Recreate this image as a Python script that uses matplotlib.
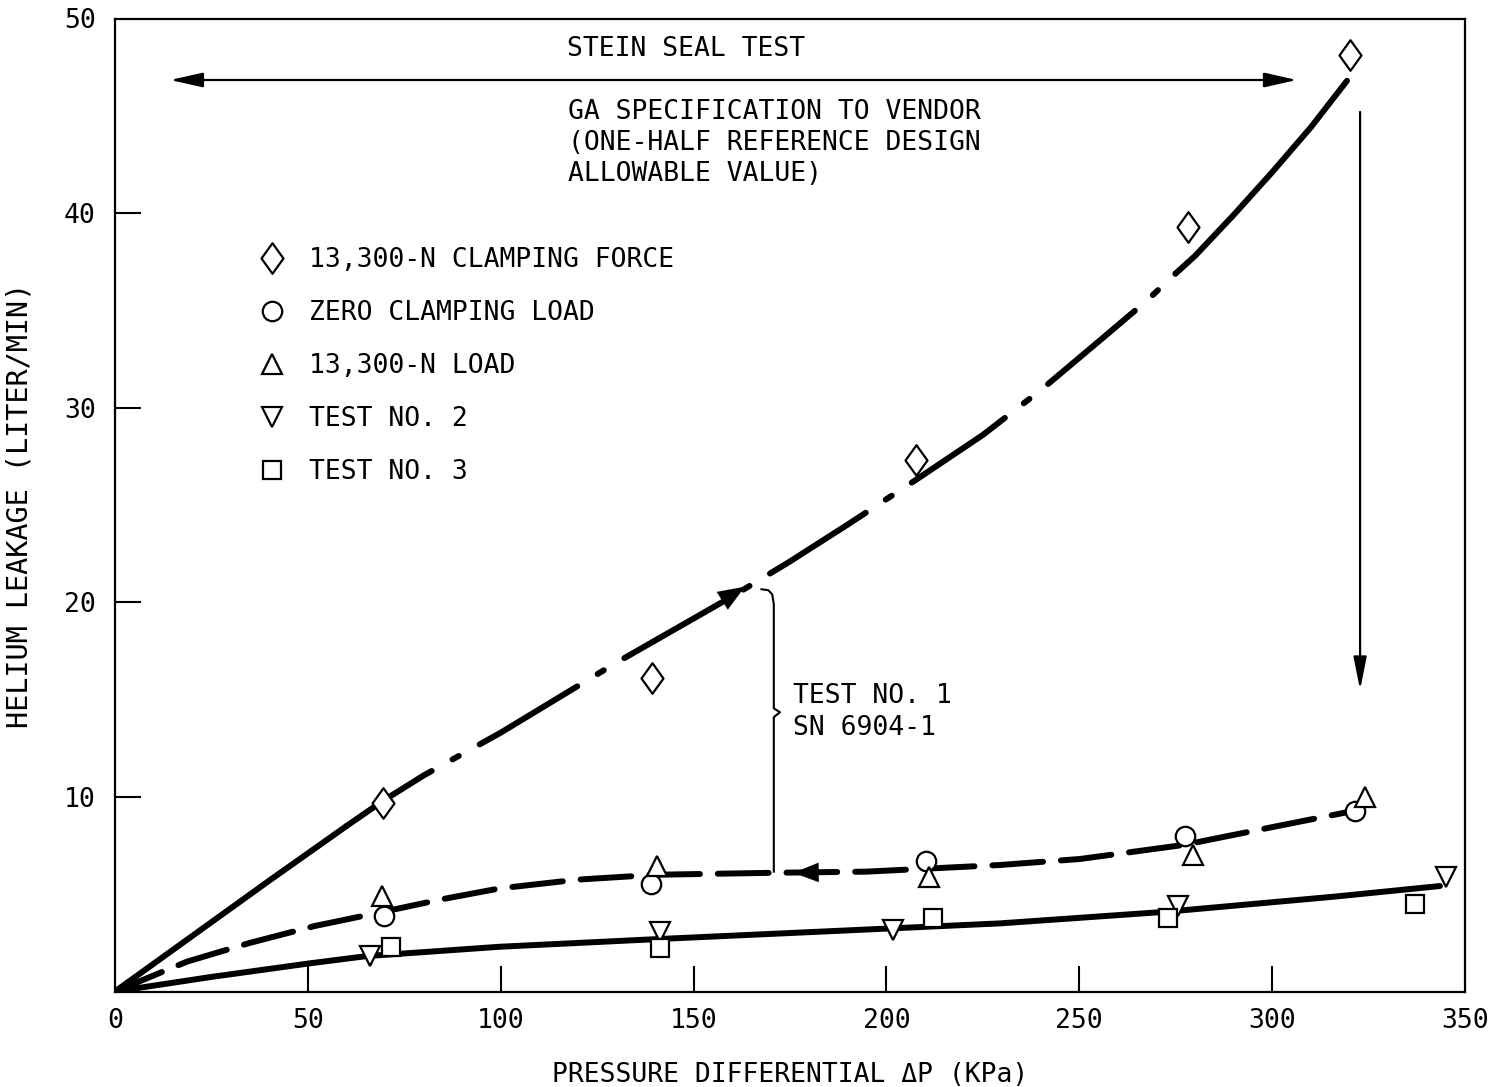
import matplotlib
matplotlib.use("Agg")
import matplotlib.pyplot as plt
from matplotlib.path import Path

plt.rcParams['font.family'] = ['DejaVu Sans Mono', 'DejaVu Sans']

# ---- data ----
diamond_x = [69.5, 139.2, 207.7, 278.2, 320.2]
diamond_y = [9.7, 16.1, 27.3, 39.3, 48.1]
circle_x = [69.7, 139.0, 210.3, 277.4, 321.5]
circle_y = [3.9, 5.5, 6.7, 8.0, 9.3]
tri_up_x = [69.2, 140.5, 211.0, 279.5, 324.1]
tri_up_y = [4.9, 6.45, 5.9, 7.0, 10.0]
tri_dn_x = [66.1, 141.3, 201.7, 275.6, 345.1]
tri_dn_y = [1.8, 3.05, 3.15, 4.4, 5.9]
square_x = [71.6, 141.3, 212.1, 273.0, 337.0]
square_y = [2.3, 2.25, 3.8, 3.8, 4.5]

# faired curves
upper_x = [0, 20, 40, 60, 69.5, 80, 90, 100, 115, 130, 145, 160, 175, 190, 207.7,
           225, 240, 255, 267.5, 275, 280, 290, 300, 310, 319.4]
upper_y = [0, 2.85, 5.7, 8.5, 9.8, 11.1, 12.2, 13.3, 15.1, 16.9, 18.6, 20.3, 22.1, 24.0, 26.3,
           28.6, 30.9, 33.4, 35.5, 36.9, 37.8, 39.9, 42.1, 44.4, 46.8]
middle_x = [0, 18.6, 35, 51.9, 69.6, 85, 99.8, 120, 140.4, 170.7, 194.9, 229.4, 250.2, 277, 298.6, 320.1]
middle_y = [0, 1.53, 2.5, 3.37, 4.1, 4.75, 5.3, 5.75, 6.0, 6.1, 6.16, 6.5, 6.81, 7.53, 8.39, 9.24]
lower_x = [0, 25, 50.6, 65.3, 99.8, 141.3, 180, 229.4, 272.7, 315.9, 343.5]
lower_y = [0, 0.75, 1.45, 1.82, 2.3, 2.7, 3.05, 3.5, 4.1, 4.87, 5.42]

legend_labels = ["13,300-N CLAMPING FORCE", "ZERO CLAMPING LOAD", "13,300-N LOAD",
                 "TEST NO. 2", "TEST NO. 3"]
x_ticks = [0, 50, 100, 150, 200, 250, 300, 350]
y_ticks = [10, 20, 30, 40, 50]

FS = 19
fig = plt.figure(figsize=(14.94, 10.87), dpi=100)
ax = fig.add_axes([115/1494, 1-991.5/1087, 1350/1494, 973/1087])
ax.set_xlim(0, 350)
ax.set_ylim(0, 50)
for s in ax.spines.values():
    s.set_linewidth(1.6)

ax.set_xticks(x_ticks)
ax.set_xticklabels([str(v) for v in x_ticks], fontsize=FS)
ax.set_yticks(y_ticks)
ax.set_yticklabels([str(v) for v in y_ticks], fontsize=FS)
ax.tick_params(direction='in', length=19, width=1.5)
ax.tick_params(axis='x', pad=12)
ax.tick_params(axis='y', pad=14)
xt = ax.xaxis.get_major_ticks()
xt[0].tick1line.set_visible(False)
xt[-1].tick1line.set_visible(False)
ax.yaxis.get_major_ticks()[-1].tick1line.set_visible(False)
ax.set_xlabel("PRESSURE DIFFERENTIAL \u0394P (KPa)", fontsize=FS, labelpad=20)
ax.set_ylabel("HELIUM LEAKAGE (LITER/MIN)", fontsize=20.5, labelpad=22)

LW = 4.3
i1 = upper_x.index(60)
i2 = upper_x.index(275)
ax.plot(upper_x[:i1+1], upper_y[:i1+1], color='black', lw=LW, solid_capstyle='round')
ax.plot(upper_x[i1:i2+1], upper_y[i1:i2+1], color='black', lw=LW,
        linestyle=(2, (19, 4, 1.2, 4)), dash_capstyle='round')
ax.plot(upper_x[i2:], upper_y[i2:], color='black', lw=LW, solid_capstyle='round')
ax.plot(middle_x, middle_y, color='black', lw=LW, linestyle=(0, (8.5, 3)), dash_capstyle='round')
ax.plot(lower_x, lower_y, color='black', lw=LW, solid_capstyle='round')

diamond_marker = Path([(0, 1), (0.72, 0), (0, -1), (-0.72, 0), (0, 1)],
                      [Path.MOVETO, Path.LINETO, Path.LINETO, Path.LINETO, Path.CLOSEPOLY])
mk = dict(linestyle='none', markerfacecolor='white', markeredgecolor='black',
          markeredgewidth=1.6, zorder=5)
h1, = ax.plot(diamond_x, diamond_y, marker=diamond_marker, markersize=22, **mk)
h2, = ax.plot(circle_x, circle_y, marker='o', markersize=14, **mk)
h3, = ax.plot(tri_up_x, tri_up_y, marker='^', markersize=15, **mk)
h4, = ax.plot(tri_dn_x, tri_dn_y, marker='v', markersize=15, **mk)
h5, = ax.plot(square_x, square_y, marker='s', markersize=13, **mk)

leg = ax.legend([h1, h2, h3, h4, h5], legend_labels, loc='upper left',
                bbox_to_anchor=(0.1067, 0.765), frameon=False, fontsize=FS,
                handlelength=1.0, handletextpad=0.9, labelspacing=1.02,
                borderpad=0, borderaxespad=0)

# curve arrows
ax.annotate('', xy=(163.3, 20.8), xytext=(156.0, 19.9),
            arrowprops=dict(arrowstyle='-|>,head_length=1.9,head_width=0.75',
                            color='black', lw=0.1, shrinkA=0, shrinkB=0), zorder=6)
ax.annotate('', xy=(175.9, 6.1), xytext=(183.0, 6.12),
            arrowprops=dict(arrowstyle='-|>,head_length=1.8,head_width=0.7',
                            color='black', lw=0.1, shrinkA=0, shrinkB=0), zorder=6)

# STEIN SEAL TEST double arrow
ax.annotate('', xy=(14.3, 46.84), xytext=(306.4, 46.84),
            arrowprops=dict(arrowstyle='<|-|>,head_length=2.0,head_width=0.45',
                            color='black', lw=1.6, shrinkA=0, shrinkB=0))
ax.text(117.2, 48.45, "STEIN SEAL TEST", fontsize=FS, ha='left', va='center')
ax.text(117.5, 45.85, "GA SPECIFICATION TO VENDOR\n(ONE-HALF REFERENCE DESIGN\nALLOWABLE VALUE)",
        fontsize=FS, ha='left', va='top', linespacing=1.25)

# vertical arrow
ax.annotate('', xy=(322.8, 15.5), xytext=(322.8, 45.2),
            arrowprops=dict(arrowstyle='-|>,head_length=2.0,head_width=0.4',
                            color='black', lw=1.6, shrinkA=0, shrinkB=0))

# bracket
bx = [167.6, 169.4, 170.4, 170.8, 170.8, 172.4, 170.8, 170.8]
by = [20.67, 20.62, 20.4, 19.9, 14.55, 14.35, 14.1, 6.16]
ax.plot(bx, by, color='black', lw=1.5)
ax.text(175.8, 15.85, "TEST NO. 1\nSN 6904-1", fontsize=FS, ha='left', va='top',
        linespacing=1.3)

fig.savefig("out.png", dpi=100)
